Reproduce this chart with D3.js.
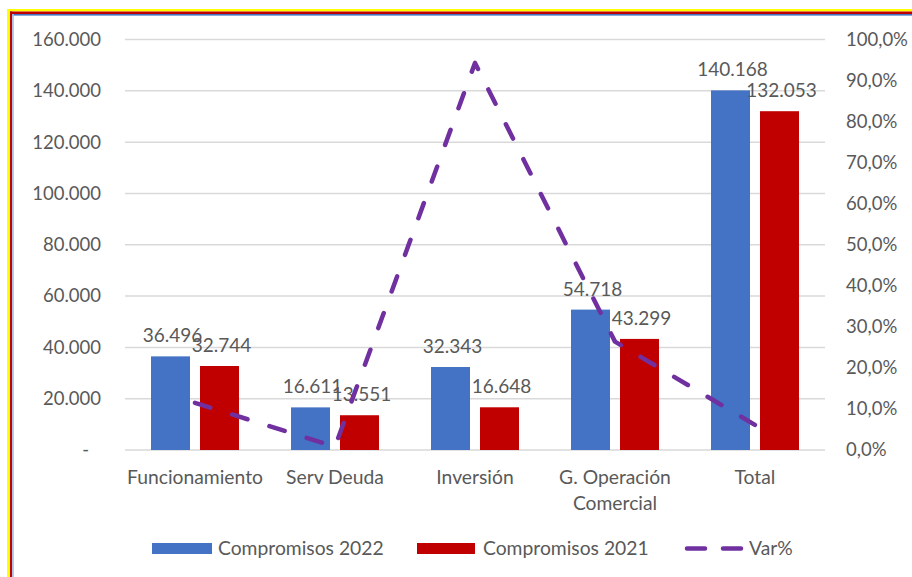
<!DOCTYPE html>
<html>
<head>
<meta charset="utf-8">
<script src="https://cdn.jsdelivr.net/npm/d3@7"></script>
<style>
  html, body { margin: 0; padding: 0; background: #fff; }
  svg { display: block; font-family: Lato, "Open Sans", sans-serif; }
</style>
</head>
<body>
<svg id="chart" width="912" height="577"></svg>
<script>
// Compromisos por concepto, 2022 vs 2021 (millones) y variación porcentual
const categories = ["Funcionamiento", "Serv Deuda", "Inversión", "G. Operación\nComercial", "Total"];
const compromisos2022 = [36496, 16611, 32343, 54718, 140168];
const compromisos2021 = [32744, 13551, 16648, 43299, 132053];
const varPct = [0.115, 0.008, 0.943, 0.264, 0.061];
const leftTicks = [0, 20000, 40000, 60000, 80000, 100000, 120000, 140000, 160000];
const rightTicks = [0, 0.1, 0.2, 0.3, 0.4, 0.5, 0.6, 0.7, 0.8, 0.9, 1.0];
const seriesNames = ["Compromisos 2022", "Compromisos 2021", "Var%"];

const colors = { c2022: "#4472C4", c2021: "#C00000", line: "#7030A0", text: "#595959", grid: "#D9D9D9" };
const numSize = 18.5, wordSize = 19.3;

const locale = d3.formatLocale({ decimal: ",", thousands: ".", grouping: [3], currency: ["", ""] });
const fmtNum = locale.format(",.0f");
const fmtPct = locale.format(".1%");

const svg = d3.select("#chart");

// Frame on the top and left edges
const frame = svg.append("g");
frame.append("rect").attr("x", 7).attr("y", 9).attr("width", 905).attr("height", 2.5).attr("fill", "#FFFF00");
frame.append("rect").attr("x", 7).attr("y", 9).attr("width", 3).attr("height", 568).attr("fill", "#FFFF00");
frame.append("rect").attr("x", 10).attr("y", 11.5).attr("width", 902).attr("height", 2.5).attr("fill", "#C00000");
frame.append("rect").attr("x", 10).attr("y", 11.5).attr("width", 2.2).attr("height", 566).attr("fill", "#C00000");
frame.append("rect").attr("x", 12.2).attr("y", 14).attr("width", 900).attr("height", 1.6).attr("fill", "#4472C4");
frame.append("rect").attr("x", 12.2).attr("y", 14).attr("width", 1.6).attr("height", 563).attr("fill", "#9DC3E6");

const plot = { left: 125, right: 825, top: 39.5, bottom: 450 };

const x = d3.scaleBand().domain(categories).range([plot.left, plot.right]).padding(0);
const xs = d3.scaleBand().domain(["2022", "2021"]).range([0, x.bandwidth()])
  .paddingInner(0.204).paddingOuter(0.531);
const yL = d3.scaleLinear().domain([0, 160000]).range([plot.bottom, plot.top]);
const yR = d3.scaleLinear().domain([0, 1]).range([plot.bottom, plot.top]);

// Gridlines
svg.append("g").selectAll("line").data(leftTicks).join("line")
  .attr("x1", plot.left).attr("x2", plot.right)
  .attr("y1", d => yL(d)).attr("y2", d => yL(d))
  .attr("stroke", colors.grid).attr("stroke-width", 1.5);

// Left axis
const leftAxis = svg.append("g").attr("transform", `translate(101,0)`)
  .call(d3.axisLeft(yL).tickValues(leftTicks).tickSize(0).tickPadding(0)
    .tickFormat(d => d === 0 ? "-" : fmtNum(d)));
leftAxis.select(".domain").remove();
leftAxis.selectAll("text").attr("fill", colors.text).attr("font-size", numSize)
  .attr("font-family", "Lato, sans-serif")
  .attr("dx", d => d === 0 ? -12 : 0);

// Right axis
const rightAxis = svg.append("g").attr("transform", `translate(846,0)`)
  .call(d3.axisRight(yR).tickValues(rightTicks).tickSize(0).tickPadding(0)
    .tickFormat(d => fmtPct(d)));
rightAxis.select(".domain").remove();
rightAxis.selectAll("text").attr("fill", colors.text).attr("font-size", numSize)
  .attr("font-family", "Lato, sans-serif");

// Category labels
const catG = svg.append("g");
categories.forEach(c => {
  const lines = c.split("\n");
  const t = catG.append("text")
    .attr("x", x(c) + x.bandwidth() / 2).attr("y", 484)
    .attr("text-anchor", "middle").attr("fill", colors.text).attr("font-size", wordSize);
  lines.forEach((ln, i) => {
    t.append("tspan").attr("x", x(c) + x.bandwidth() / 2).attr("dy", i === 0 ? 0 : 26).text(ln);
  });
});

// Bars
const barData = categories.map((c, i) => ({ c, v2022: compromisos2022[i], v2021: compromisos2021[i] }));
const series = [
  { key: "2022", field: "v2022", color: colors.c2022 },
  { key: "2021", field: "v2021", color: colors.c2021 }
];
series.forEach(s => {
  svg.append("g").selectAll("rect").data(barData).join("rect")
    .attr("x", d => x(d.c) + xs(s.key))
    .attr("width", xs.bandwidth())
    .attr("y", d => yL(d[s.field]))
    .attr("height", d => yL(0) - yL(d[s.field]))
    .attr("fill", s.color);
});

// Value labels
series.forEach(s => {
  svg.append("g").selectAll("text").data(barData).join("text")
    .attr("x", d => x(d.c) + xs(s.key) + xs.bandwidth() / 2 + 2)
    .attr("y", d => yL(d[s.field]) - 14)
    .attr("text-anchor", "middle").attr("fill", colors.text).attr("font-size", 19)
    .text(d => fmtNum(d[s.field]));
});

// Var% line on the secondary axis
const lineGen = d3.line()
  .x((d, i) => x(categories[i]) + x.bandwidth() / 2)
  .y(d => yR(d));
svg.append("path").datum(varPct)
  .attr("d", lineGen)
  .attr("fill", "none").attr("stroke", colors.line).attr("stroke-width", 4.5)
  .attr("stroke-linecap", "round").attr("stroke-linejoin", "round")
  .attr("stroke-dasharray", "16 23");

// Legend
const legend = svg.append("g").attr("font-size", wordSize).attr("fill", colors.text);
legend.append("rect").attr("x", 152).attr("y", 543).attr("width", 60).attr("height", 11).attr("fill", colors.c2022);
legend.append("text").attr("x", 218).attr("y", 555).text(seriesNames[0]);
legend.append("rect").attr("x", 417).attr("y", 543).attr("width", 58).attr("height", 11).attr("fill", colors.c2021);
legend.append("text").attr("x", 483).attr("y", 555).text(seriesNames[1]);
legend.append("line").attr("x1", 687).attr("x2", 741).attr("y1", 548.5).attr("y2", 548.5)
  .attr("stroke", colors.line).attr("stroke-width", 4.5).attr("stroke-linecap", "round")
  .attr("stroke-dasharray", "18 18");
legend.append("text").attr("x", 749).attr("y", 555).text(seriesNames[2]);
</script>
</body>
</html>
